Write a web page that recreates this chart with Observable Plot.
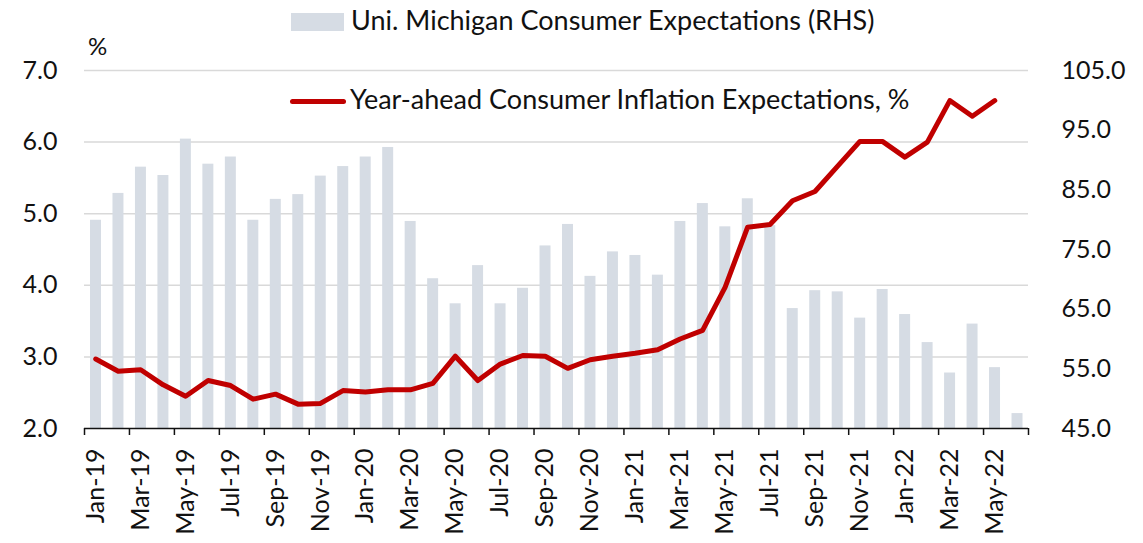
<!DOCTYPE html>
<html>
<head>
<meta charset="utf-8">
<script src="https://cdn.jsdelivr.net/npm/d3@7"></script>
<script src="https://cdn.jsdelivr.net/npm/@observablehq/plot@0.6"></script>
<style>
  html, body { margin: 0; padding: 0; background: #fff; }
  #wrap { position: relative; width: 1143px; height: 543px; font-family: Lato, "Noto Sans", sans-serif; color: #111; }
  .lg { position: absolute; font-size: 27px; line-height: 27px; white-space: nowrap; }
  .pct { position: absolute; font-size: 24px; line-height: 24px; }
  .sw { position: absolute; }
</style>
</head>
<body>
<div id="wrap"></div>
<script>
// ---- data ----
const months = [
  "Jan-19","Feb-19","Mar-19","Apr-19","May-19","Jun-19","Jul-19","Aug-19","Sep-19","Oct-19","Nov-19","Dec-19",
  "Jan-20","Feb-20","Mar-20","Apr-20","May-20","Jun-20","Jul-20","Aug-20","Sep-20","Oct-20","Nov-20","Dec-20",
  "Jan-21","Feb-21","Mar-21","Apr-21","May-21","Jun-21","Jul-21","Aug-21","Sep-21","Oct-21","Nov-21","Dec-21",
  "Jan-22","Feb-22","Mar-22","Apr-22","May-22","Jun-22"
];
// Uni. Michigan Consumer Expectations (RHS)
const umich = [
  79.9, 84.4, 88.8, 87.4, 93.5, 89.3, 90.5, 79.9, 83.4, 84.2, 87.3, 88.9,
  90.5, 92.1, 79.7, 70.1, 65.9, 72.3, 65.9, 68.5, 75.6, 79.2, 70.5, 74.6,
  74.0, 70.7, 79.7, 82.7, 78.8, 83.5, 79.0, 65.1, 68.1, 67.9, 63.5, 68.3,
  64.1, 59.4, 54.3, 62.5, 55.2, 47.5
];
// Year-ahead Consumer Inflation Expectations, % (LHS)
const inflation = [
  2.97, 2.80, 2.82, 2.61, 2.45, 2.67, 2.60, 2.41, 2.48, 2.34, 2.35, 2.53,
  2.51, 2.54, 2.54, 2.63, 3.01, 2.67, 2.90, 3.02, 3.01, 2.84, 2.96, 3.01,
  3.05, 3.10, 3.25, 3.37, 3.97, 4.81, 4.85, 5.18, 5.31, 5.66, 6.01, 6.01,
  5.79, 6.00, 6.58, 6.36, 6.58, null
];
const leftTicks = [2, 3, 4, 5, 6, 7];
const rightTicks = [45, 55, 65, 75, 85, 95, 105];
const leftDomain = [2, 7];
const rightDomain = [45, 105];
const legendBars = "Uni. Michigan Consumer Expectations (RHS)";
const legendLine = "Year-ahead Consumer Inflation Expectations, %";

// ---- helpers ----
const toLeft = v => leftDomain[0] + (v - rightDomain[0]) / (rightDomain[1] - rightDomain[0]) * (leftDomain[1] - leftDomain[0]);
const fromLeft = v => rightDomain[0] + (v - leftDomain[0]) / (leftDomain[1] - leftDomain[0]) * (rightDomain[1] - rightDomain[0]);

const rows = months.map((m, i) => ({i, m, u: umich[i], inf: inflation[i]}));
const lineRows = rows.filter(d => d.inf != null);
const n = months.length;
const boundaryTicks = d3.range(0, n + 1, 2);
const labelTicks = d3.range(0, n, 2).map(i => i + 0.5);

const chart = Plot.plot({
  width: 1143,
  height: 543,
  marginTop: 70,
  marginBottom: 115,
  marginLeft: 84,
  marginRight: 115,
  style: {fontFamily: "Lato, 'Noto Sans', sans-serif", fontSize: "25px", color: "#111", background: "#fff"},
  x: {type: "linear", domain: [0, n]},
  y: {domain: leftDomain},
  marks: [
    Plot.ruleY(leftTicks.slice(1), {stroke: "#D9D9D9", strokeWidth: 1.5}),
    Plot.rectY(rows, {
      x1: d => d.i, x2: d => d.i + 1,
      y1: () => toLeft(rightDomain[0]), y2: d => toLeft(d.u),
      insetLeft: 6, insetRight: 5.5, fill: "#D6DCE4"
    }),
    Plot.line(lineRows, {x: d => d.i + 0.5, y: "inf", stroke: "#C00000", strokeWidth: 5, strokeLinejoin: "round", strokeLinecap: "round"}),
    Plot.ruleY([leftDomain[0]], {stroke: "#111", strokeWidth: 1.5}),
    Plot.axisY({anchor: "left", ticks: leftTicks, tickFormat: d => d.toFixed(1), tickSize: 0, tickPadding: 27, label: null, fontSize: 25}),
    Plot.axisY({anchor: "right", ticks: rightTicks.map(toLeft), tickFormat: d => fromLeft(d).toFixed(1), tickSize: 0, tickPadding: 33, label: null, fontSize: 25}),
    Plot.axisX({ticks: boundaryTicks, tickFormat: () => "", tickSize: 7, stroke: "#111", strokeWidth: 1.5, label: null}),
    Plot.axisX({ticks: labelTicks, tickFormat: d => months[Math.floor(d)], tickSize: 0, tickPadding: 20, tickRotate: -90, label: null, fontSize: 25})
  ]
});

const wrap = document.getElementById("wrap");
wrap.appendChild(chart);

function addDiv(cls, text, css) {
  const el = document.createElement("div");
  el.className = cls;
  if (text) el.textContent = text;
  Object.assign(el.style, css);
  wrap.appendChild(el);
}
addDiv("sw", "", {left: "291px", top: "13px", width: "53px", height: "18px", background: "#D6DCE4"});
addDiv("lg", legendBars, {left: "351px", top: "6px"});
addDiv("sw", "", {left: "290px", top: "99px", width: "56px", height: "5px", background: "#C00000", borderRadius: "3px"});
addDiv("lg", legendLine, {left: "350px", top: "85px"});
addDiv("pct", "%", {left: "88px", top: "34px"});
</script>
</body>
</html>
